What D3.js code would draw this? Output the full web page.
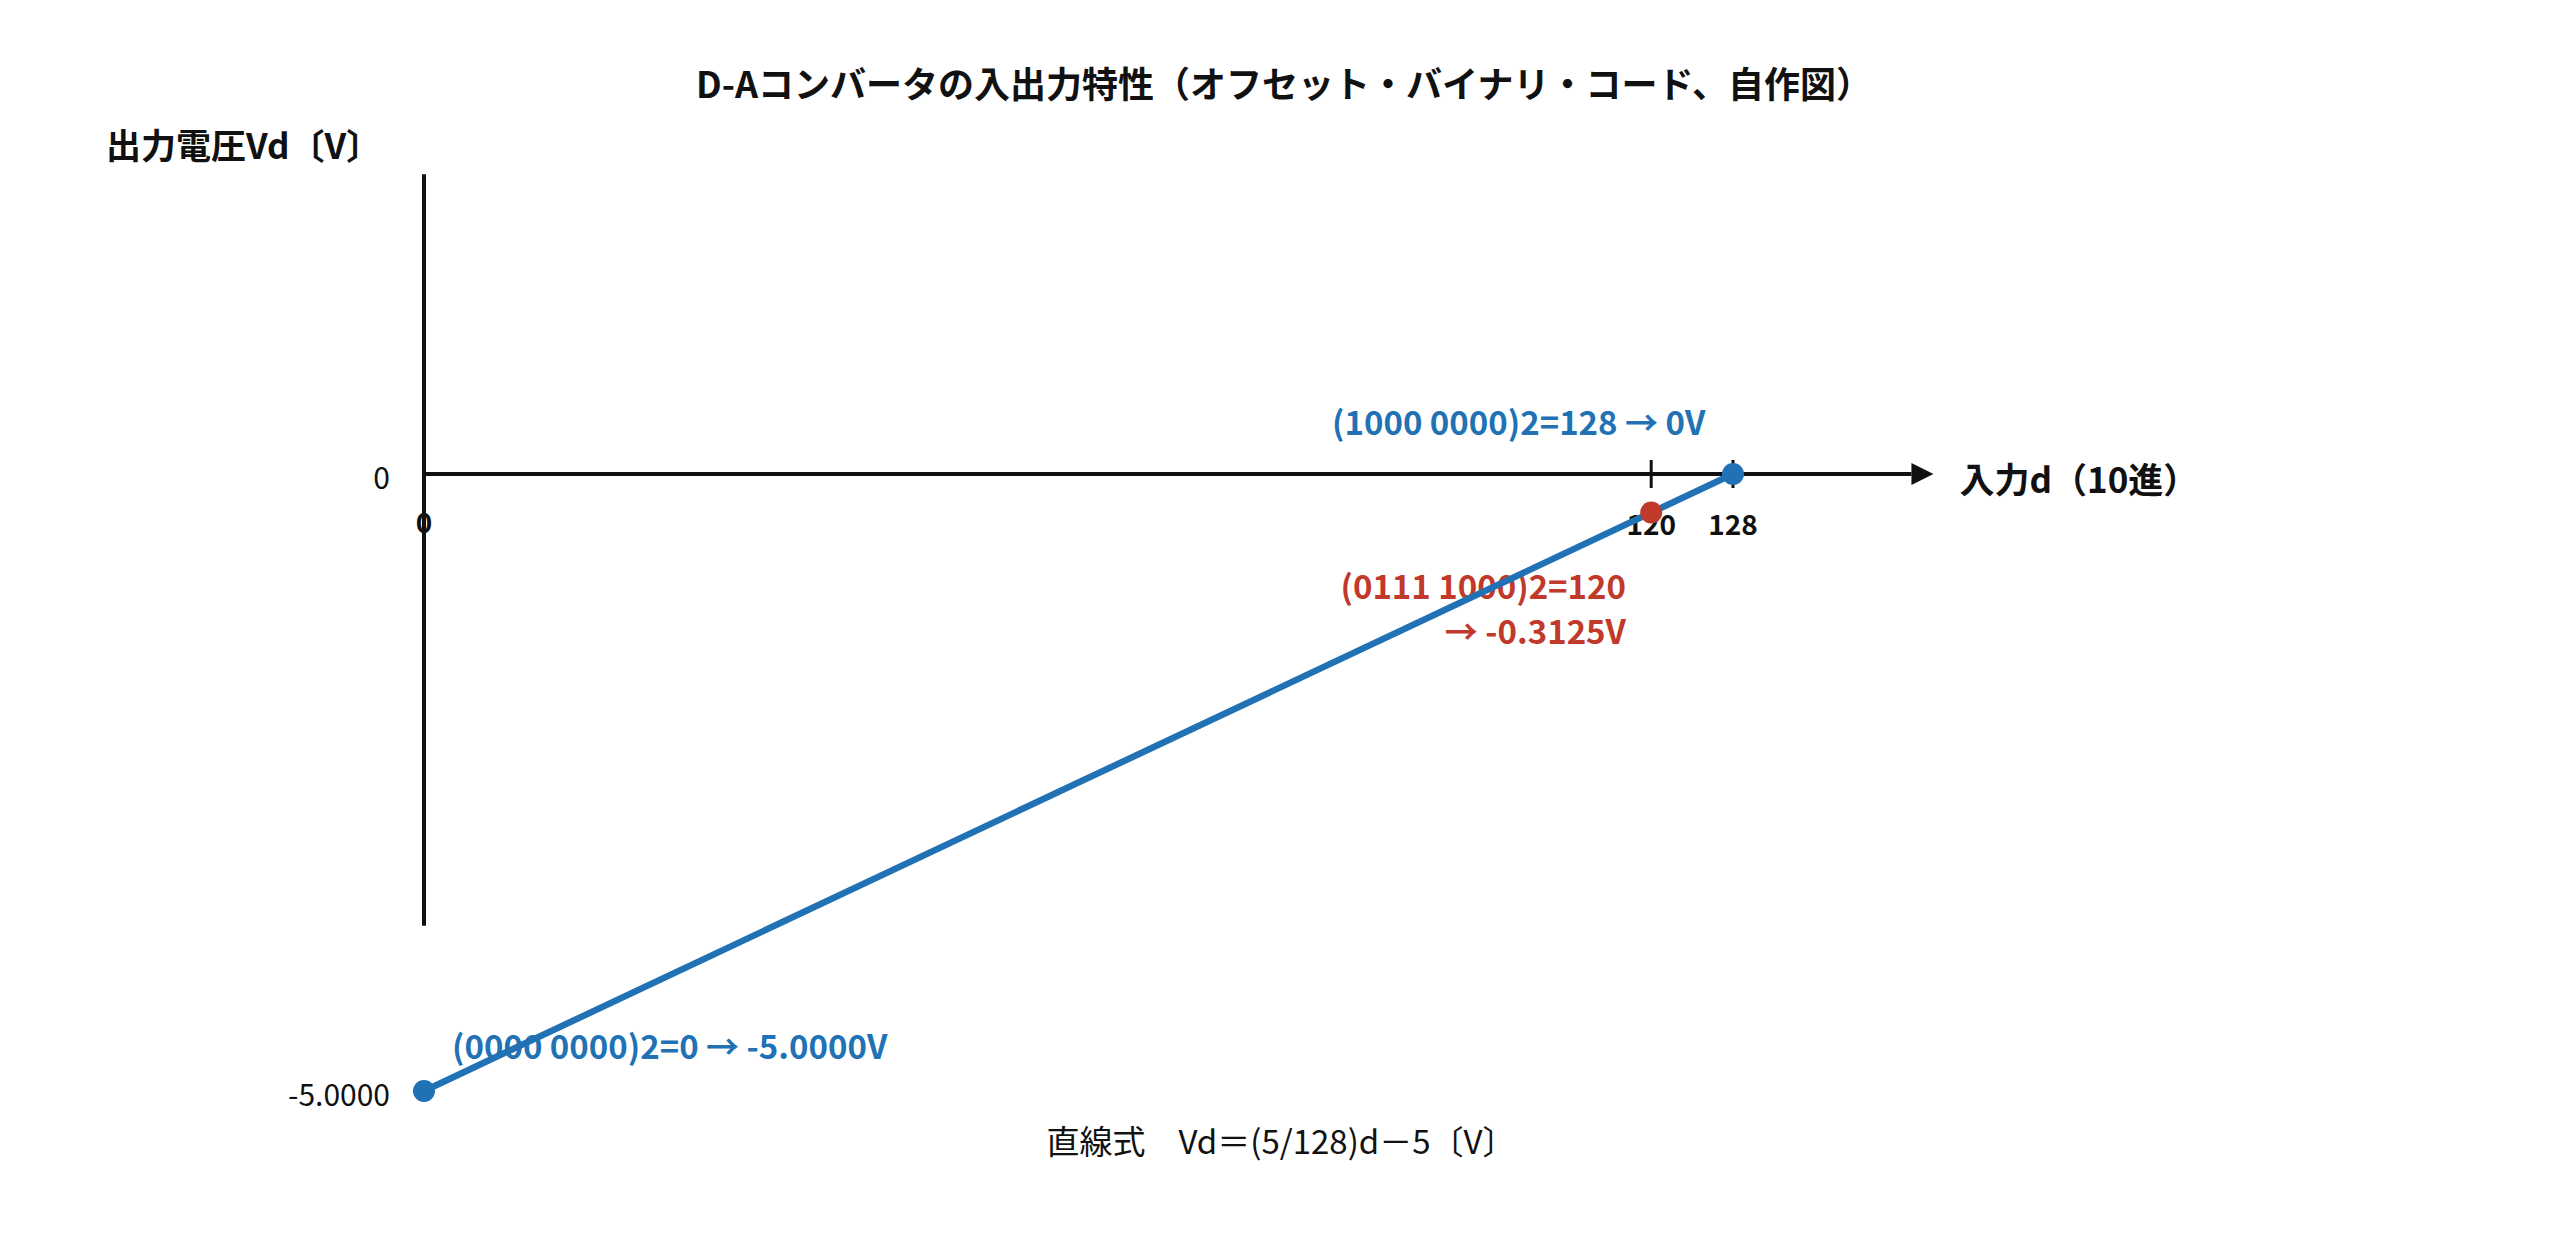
<!DOCTYPE html>
<html><head><meta charset="utf-8">
<script src="https://cdn.jsdelivr.net/npm/d3@7"></script>
<style>html,body{margin:0;padding:0;background:#fff;}</style>
</head><body>
<script>
// ---- data ----
const lineD = [0, 128];                 // input codes (decimal)
const lineV = [-5, 0];                  // output voltages
const highlightD = [120];
const highlightV = [-0.3125];
const xTickValues = [120, 128];
const xTickLabels = ["120", "128"];
const yTickValues = [0, -5];
const yTickLabels = ["0", "-5.0000"];
const xAxisExtent = [0, 147.6];
const yAxisExtent = [2.43, -3.66];
const title = "D-Aコンバータの入出力特性（オフセット・バイナリ・コード、自作図）";
const yTitle = "出力電圧Vd〔V〕";
const xTitle = "入力d（10進）";
const noteTop = "(1000 0000)2=128 → 0V";
const noteRed = ["(0111 1000)2=120", "→ -0.3125V"];
const noteBottom = "(0000 0000)2=0 → -5.0000V";
const equation = "直線式　Vd＝(5/128)d－5〔V〕";

const W = 2560, H = 1251;
const BLUE = "#2171b5", RED = "#c0392b", INK = "#111";
const JFONT = "'Noto Sans CJK JP','Liberation Sans',sans-serif";

const svg = d3.select("body").append("svg").attr("width", W).attr("height", H);
const x = d3.scaleLinear().domain([0, 128]).range([424, 1733]);
const y = d3.scaleLinear().domain([0, -5]).range([474, 1091]);

// title
svg.append("text").attr("x", 1284).attr("y", 82).attr("text-anchor", "middle")
  .attr("dominant-baseline", "central").attr("font-family", JFONT)
  .attr("font-weight", "bold").attr("font-size", 36).attr("fill", INK).text(title);
svg.append("text").attr("x", 106).attr("y", 143)
  .attr("dominant-baseline", "central").attr("font-family", JFONT)
  .attr("font-weight", "bold").attr("font-size", 35).attr("fill", INK).text(yTitle);

// axes
svg.append("line").attr("x1", x(0)).attr("x2", x(0))
  .attr("y1", y(yAxisExtent[0])).attr("y2", y(yAxisExtent[1]))
  .attr("stroke", INK).attr("stroke-width", 4);
svg.append("line").attr("x1", x(xAxisExtent[0])).attr("x2", x(xAxisExtent[1]) - 22)
  .attr("y1", y(0)).attr("y2", y(0))
  .attr("stroke", INK).attr("stroke-width", 4);
svg.append("path")
  .attr("d", `M${x(xAxisExtent[1]) - 22},${y(0) - 11} L${x(xAxisExtent[1])},${y(0)} L${x(xAxisExtent[1]) - 22},${y(0) + 11} Z`)
  .attr("fill", INK);
svg.append("text").attr("x", x(xAxisExtent[1]) + 26).attr("y", y(0) + 3)
  .attr("dominant-baseline", "central").attr("font-family", JFONT)
  .attr("font-weight", "bold").attr("font-size", 35).attr("fill", INK).text(xTitle);

// x ticks
svg.selectAll(".xt").data(xTickValues).enter().append("line")
  .attr("x1", d => x(d)).attr("x2", d => x(d))
  .attr("y1", y(0) - 14).attr("y2", y(0) + 14)
  .attr("stroke", INK).attr("stroke-width", 3);
svg.selectAll(".xl").data(xTickValues).enter().append("text")
  .attr("x", d => x(d)).attr("y", y(0) + 49).attr("text-anchor", "middle")
  .attr("dominant-baseline", "central").attr("font-family", JFONT)
  .attr("font-weight", "bold").attr("font-size", 28).attr("fill", INK)
  .text((d, i) => xTickLabels[i]);
svg.append("text").attr("x", x(0)).attr("y", y(0) + 47).attr("text-anchor", "middle")
  .attr("dominant-baseline", "central").attr("font-family", JFONT)
  .attr("font-weight", "bold").attr("font-size", 28).attr("fill", INK).text("0");

// y labels
svg.selectAll(".yl").data(yTickValues).enter().append("text")
  .attr("x", x(0) - 34).attr("y", d => y(d) + 2).attr("text-anchor", "end")
  .attr("dominant-baseline", "central").attr("font-family", JFONT)
  .attr("font-size", 30).attr("fill", INK)
  .text((d, i) => yTickLabels[i]);

// annotations
svg.append("text").attr("x", 1332).attr("y", 421)
  .attr("dominant-baseline", "central").attr("font-family", JFONT)
  .attr("font-weight", "bold").attr("font-size", 33).attr("fill", BLUE).text(noteTop);
svg.selectAll(".nr").data(noteRed).enter().append("text")
  .attr("x", 1626).attr("y", (d, i) => 585 + i * 45).attr("text-anchor", "end")
  .attr("dominant-baseline", "central").attr("font-family", JFONT)
  .attr("font-weight", "bold").attr("font-size", 33).attr("fill", RED).text(d => d);
svg.append("text").attr("x", 452).attr("y", 1045)
  .attr("dominant-baseline", "central").attr("font-family", JFONT)
  .attr("font-weight", "bold").attr("font-size", 33).attr("fill", BLUE).text(noteBottom);

// line
const pts = lineD.map((d, i) => [d, lineV[i]]);
svg.append("path").datum(pts)
  .attr("d", d3.line().x(d => x(d[0])).y(d => y(d[1])))
  .attr("fill", "none").attr("stroke", BLUE).attr("stroke-width", 6.5);
svg.selectAll(".pb").data(pts).enter().append("circle")
  .attr("cx", d => x(d[0])).attr("cy", d => y(d[1])).attr("r", 11).attr("fill", BLUE);
svg.selectAll(".pr").data(highlightD).enter().append("circle")
  .attr("cx", d => x(d)).attr("cy", (d, i) => y(highlightV[i])).attr("r", 11).attr("fill", RED);

// equation
svg.append("text").attr("x", 1281).attr("y", 1140).attr("text-anchor", "middle")
  .attr("dominant-baseline", "central").attr("font-family", JFONT)
  .attr("font-size", 33).attr("fill", INK).text(equation);
</script>
</body></html>
